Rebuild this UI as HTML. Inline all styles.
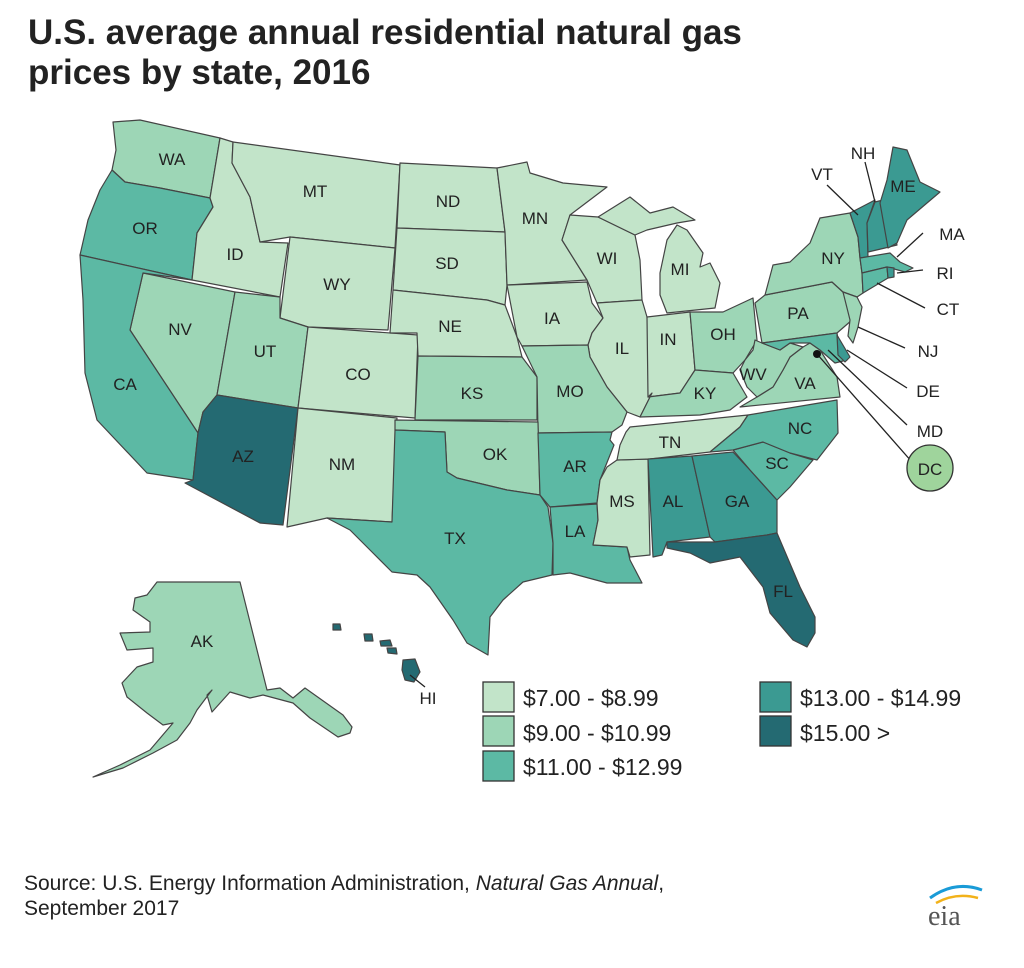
<!DOCTYPE html><html><head><style>body{margin:0;background:#fff}svg{display:block}</style></head><body>
<svg width="1024" height="968" xmlns="http://www.w3.org/2000/svg" font-family="Liberation Sans, sans-serif">
<rect width="1024" height="968" fill="#fff"/>
<text x="28" y="44" font-size="35" font-weight="bold" fill="#222">U.S. average annual residential natural gas</text>
<text x="28" y="84" font-size="35" font-weight="bold" fill="#222">prices by state, 2016</text>
<g stroke="#444" stroke-width="1.2" stroke-linejoin="round">
<polygon fill="#9dd6b6" points="113,122 140,120 220,138 210,198 160,188 125,182 112,170 116,150"/>
<polygon fill="#5cb9a4" points="112,170 125,182 160,188 210,198 213,207 197,233 192,280 80,255 88,220 100,190"/>
<polygon fill="#c2e4c9" points="220,138 233,142 232,163 250,197 260,242 288,243 280,297 192,280 197,233 213,207 210,198"/>
<polygon fill="#c2e4c9" points="233,142 400,165 395,248 290,237 260,242 250,197 232,163"/>
<polygon fill="#c2e4c9" points="290,237 395,248 388,330 308,327 280,318"/>
<polygon fill="#9dd6b6" points="143,273 235,292 217,395 203,412 198,433 130,330"/>
<polygon fill="#5cb9a4" points="80,255 192,280 143,273 130,330 198,433 193,480 147,473 97,420 85,373 83,300"/>
<polygon fill="#9dd6b6" points="235,292 280,297 280,318 308,327 298,408 217,395"/>
<polygon fill="#c2e4c9" points="308,327 418,335 415,418 298,408"/>
<polygon fill="#246a72" points="217,395 298,408 283,525 260,523 185,483 193,480 198,433 203,412"/>
<polygon fill="#c2e4c9" points="298,408 397,418 392,522 327,518 287,527"/>
<polygon fill="#c2e4c9" points="400,163 497,168 505,232 397,228"/>
<polygon fill="#c2e4c9" points="397,228 505,232 507,285 505,305 487,300 393,290"/>
<polygon fill="#c2e4c9" points="393,290 487,300 505,305 517,337 522,357 418,356 417,333 390,333"/>
<polygon fill="#c2e4c9" points="497,168 527,162 530,173 563,183 607,187 570,215 562,240 587,280 507,285 505,232"/>
<polygon fill="#c2e4c9" points="507,285 587,282 592,303 603,318 592,333 588,345 522,346 517,337"/>
<polygon fill="#c2e4c9" points="570,215 598,217 635,235 640,260 642,300 597,303 587,280 562,240"/>
<polygon fill="#c2e4c9" points="598,217 630,197 650,213 673,207 695,220 677,223 647,230 635,235"/>
<polygon fill="#c2e4c9" points="677,225 667,240 660,273 660,295 667,313 715,308 720,283 710,263 700,267 703,253 687,230"/>
<polygon fill="#c2e4c9" points="597,303 642,300 647,317 652,393 640,417 627,412 607,387 590,357 588,345 592,333 603,318"/>
<polygon fill="#c2e4c9" points="647,317 690,312 695,370 680,393 648,397"/>
<polygon fill="#9dd6b6" points="690,312 723,312 753,298 757,340 745,360 733,373 695,370"/>
<polygon fill="#9dd6b6" points="418,356 522,357 537,377 537,420 415,420"/>
<polygon fill="#9dd6b6" points="522,346 588,345 590,357 607,387 627,412 622,425 612,432 538,433 537,377"/>
<polygon fill="#9dd6b6" points="648,397 680,393 695,370 733,373 747,397 730,410 700,415 640,417 652,393"/>
<polygon fill="#9dd6b6" points="395,420 538,422 540,495 507,490 457,478 447,472 445,432 395,430"/>
<polygon fill="#5cb9a4" points="395,430 445,432 447,472 457,478 507,490 540,495 548,507 553,543 552,575 523,582 503,600 490,617 488,655 467,643 453,620 430,587 417,575 392,572 370,550 350,530 327,518 392,522"/>
<polygon fill="#5cb9a4" points="538,433 612,432 610,440 614,445 600,480 597,503 550,507 540,495"/>
<polygon fill="#5cb9a4" points="550,507 597,504 598,520 593,545 627,547 630,560 642,583 607,583 570,573 553,575 553,543"/>
<polygon fill="#c2e4c9" points="617,460 648,459 650,555 630,557 627,547 593,545 598,520 597,503 600,480 607,467"/>
<polygon fill="#c2e4c9" points="630,427 748,415 740,427 710,452 650,459 617,460 620,445 626,432"/>
<polygon fill="#3b9a92" points="648,459 692,456 710,537 667,542 662,555 653,557"/>
<polygon fill="#3b9a92" points="692,456 733,452 750,470 777,500 777,533 767,535 715,542 710,537"/>
<polygon fill="#246a72" points="667,542 715,542 767,535 777,533 800,587 815,617 815,633 807,647 793,640 770,613 763,587 740,557 710,563 690,553 667,548"/>
<polygon fill="#5cb9a4" points="733,450 763,442 790,453 813,460 790,487 777,500 750,470"/>
<polygon fill="#5cb9a4" points="748,415 837,400 838,433 817,460 790,453 763,442 733,450 710,452 740,427"/>
<polygon fill="#9dd6b6" points="740,407 757,397 773,387 783,370 790,357 803,347 810,343 820,350 837,377 840,397"/>
<polygon fill="#9dd6b6" points="755,340 762,343 780,350 790,343 803,347 790,357 783,370 773,387 757,397 747,387 740,370 745,360 753,350"/>
<polygon fill="#9dd6b6" points="755,303 765,295 832,282 843,292 850,310 852,320 837,333 762,343"/>
<polygon fill="#9dd6b6" points="820,218 850,213 858,237 860,258 862,273 863,293 857,297 843,292 832,282 765,295 773,265 790,262 810,243"/>
<polygon fill="#9dd6b6" points="843,292 857,297 862,307 858,327 853,343 848,336 850,320"/>
<polygon fill="#5cb9a4" points="762,343 837,333 840,353 847,360 835,363 820,350 810,343 790,343 780,350"/>
<polygon fill="#3b9a92" points="837,335 850,357 845,362 838,355"/>
<polygon fill="#3b9a92" points="850,213 875,200 867,223 868,257 860,258 858,237"/>
<polygon fill="#3b9a92" points="875,202 883,200 897,245 885,248 868,252 867,223"/>
<polygon fill="#3b9a92" points="893,147 907,150 920,182 940,192 927,203 907,220 897,243 888,248 880,203 887,180"/>
<polygon fill="#5cb9a4" points="860,258 890,253 900,262 913,268 905,272 887,267 862,273"/>
<polygon fill="#5cb9a4" points="862,273 887,267 888,278 863,293"/>
<polygon fill="#3b9a92" points="887,267 894,268 894,277 888,278"/>
<polygon fill="#9dd6b6" points="157,582 240,582 267,690 280,688 293,698 305,688 343,715 352,727 350,733 338,737 310,718 293,703 263,695 250,698 230,692 212,712 207,695 212,690 197,710 190,723 177,740 153,753 123,768 93,777 120,765 150,750 173,723 163,725 147,713 127,697 122,683 137,667 153,662 153,648 127,650 120,633 150,632 150,622 133,610 135,598 147,595"/>
<polygon fill="#246a72" points="333,624 340,624 341,630 333,630"/>
<polygon fill="#246a72" points="364,634 372,634 373,641 365,641"/>
<polygon fill="#246a72" points="380,641 390,640 392,646 381,646"/>
<polygon fill="#246a72" points="387,648 396,648 397,654 388,653"/>
<polygon fill="#246a72" points="403,660 415,659 420,672 414,682 405,680 402,670"/>
</g>
<g stroke="#222" stroke-width="1.3" fill="none">
<line x1="827" y1="185" x2="858" y2="215"/><line x1="865" y1="162" x2="875" y2="202"/>
<line x1="923" y1="233" x2="897" y2="257"/><line x1="923" y1="270" x2="897" y2="273"/>
<line x1="925" y1="308" x2="877" y2="283"/><line x1="905" y1="348" x2="858" y2="327"/>
<line x1="907" y1="388" x2="847" y2="350"/><line x1="907" y1="425" x2="828" y2="350"/>
<line x1="912" y1="462" x2="817" y2="354"/><line x1="425" y1="687" x2="410" y2="675"/>
</g>
<circle cx="817" cy="354" r="4" fill="#111"/>
<circle cx="930" cy="468" r="23" fill="#9fd49c" stroke="#333" stroke-width="1.3"/>
<g font-size="17" fill="#222" text-anchor="middle">
<text x="172" y="165">WA</text><text x="145" y="234">OR</text><text x="235" y="260">ID</text><text x="315" y="197">MT</text>
<text x="448" y="207">ND</text><text x="447" y="269">SD</text><text x="337" y="290">WY</text><text x="450" y="332">NE</text>
<text x="358" y="380">CO</text><text x="342" y="470">NM</text><text x="243" y="462">AZ</text><text x="265" y="357">UT</text>
<text x="180" y="335">NV</text><text x="125" y="390">CA</text><text x="455" y="544">TX</text><text x="495" y="460">OK</text>
<text x="472" y="399">KS</text><text x="552" y="324">IA</text><text x="535" y="224">MN</text><text x="607" y="264">WI</text>
<text x="680" y="275">MI</text><text x="622" y="354">IL</text><text x="668" y="345">IN</text><text x="723" y="340">OH</text>
<text x="705" y="399">KY</text><text x="670" y="448">TN</text><text x="570" y="397">MO</text><text x="575" y="472">AR</text>
<text x="575" y="537">LA</text><text x="622" y="507">MS</text><text x="673" y="507">AL</text><text x="737" y="507">GA</text>
<text x="783" y="597">FL</text><text x="777" y="469">SC</text><text x="800" y="434">NC</text><text x="805" y="389">VA</text>
<text x="753" y="380">WV</text><text x="798" y="319">PA</text><text x="833" y="264">NY</text>
<text x="822" y="180">VT</text><text x="863" y="159">NH</text><text x="903" y="192">ME</text>
<text x="952" y="240">MA</text><text x="945" y="279">RI</text><text x="948" y="315">CT</text>
<text x="928" y="357">NJ</text><text x="928" y="397">DE</text><text x="930" y="437">MD</text><text x="930" y="475">DC</text>
<text x="202" y="647">AK</text><text x="428" y="704">HI</text>
</g>
<g stroke="#333" stroke-width="1.3">
<rect x="483" y="682" width="31" height="30" fill="#c2e4c9"/>
<rect x="483" y="716" width="31" height="30" fill="#9dd6b6"/>
<rect x="483" y="751" width="31" height="30" fill="#5cb9a4"/>
<rect x="760" y="682" width="31" height="30" fill="#3b9a92"/>
<rect x="760" y="716" width="31" height="30" fill="#246a72"/>
</g>
<g font-size="23" fill="#222">
<text x="523" y="706">$7.00 - $8.99</text><text x="523" y="741">$9.00 - $10.99</text><text x="523" y="775">$11.00 - $12.99</text>
<text x="800" y="706">$13.00 - $14.99</text><text x="800" y="741">$15.00 &gt;</text>
</g>
<text x="24" y="890" font-size="21" fill="#222">Source: U.S. Energy Information Administration, <tspan font-style="italic">Natural Gas Annual</tspan>,</text>
<text x="24" y="915" font-size="21" fill="#222">September 2017</text>
<text x="928" y="925" font-size="28" fill="#555" font-family="Liberation Serif, serif">eia</text>
<path d="M930 898 Q955 880 982 890" stroke="#1a9bd7" stroke-width="3" fill="none"/>
<path d="M936 903 Q956 892 978 898" stroke="#f2b21a" stroke-width="2.5" fill="none"/>
</svg>
</body></html>
